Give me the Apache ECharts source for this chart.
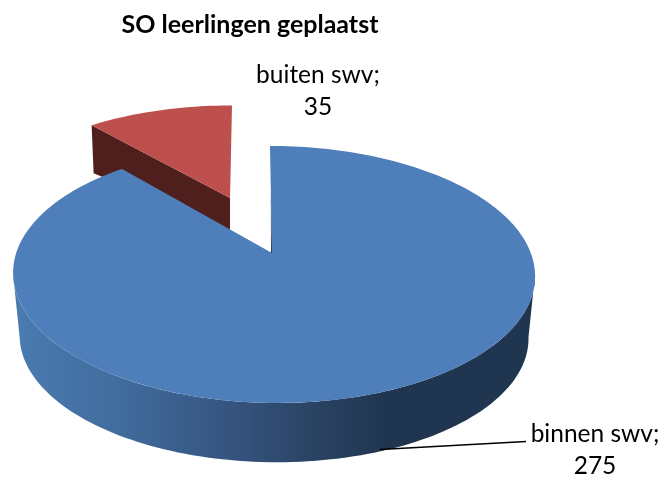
<!DOCTYPE html>
<html>
<head>
<meta charset="utf-8">
<style>html,body{margin:0;padding:0;background:#fff}#c{width:665px;height:477px}</style>
<script src="https://cdn.jsdelivr.net/npm/echarts@6/dist/echarts.min.js"></script>
</head>
<body>
<div id="c"></div>
<script>
var titleText = 'SO leerlingen geplaatst';
var categories = ['binnen swv', 'buiten swv'];
var values = [275, 35];
var topColors = ['#4e7fba', '#bd4f4c'];

// Projection of each slice disc (page pixels): apex, rim centre, horizontal/vertical scale,
// perspective strength and a slight lean of the vertical axis.
var discs = [
  { ax: 272, rx: 273.5, ay: 253, g: 257.3, f: 124.9, k: 0.167, lean: -3.5, z: 10 },
  { ax: 230, rx: 230, ay: 198, g: 242, f: 108, k: 0.167, lean: 2, z: 5 }
];
var labelPos = [[595, 450], [318, 91]];
var total = values.reduce(function (a, b) { return a + b; }, 0);

function pt(d, deg, scale, dy) {
  var t = deg * Math.PI / 180, u = Math.sin(t), v = Math.cos(t), w = 1 + d.k * v;
  return [d.rx + scale * (d.g * u / w + d.lean * v), d.ay + dy - scale * d.f * v / w];
}
function arc(d, a, b, scale, dy) {
  var out = [], n = Math.max(2, Math.ceil(Math.abs(b - a) / 1.5));
  for (var i = 0; i <= n; i++) out.push(pt(d, a + (b - a) * i / n, scale, dy));
  return out;
}

function renderItem(params, api) {
  var idx = params.dataIndex, d = discs[idx], val = api.value(0), start = 0;
  for (var i = 0; i < idx; i++) start += values[i];
  var a0 = start / total * 360, a1 = a0 + val / total * 360;
  var kids = [];
  var apex = [d.ax, d.ay];
  if (idx === 0) {
    var front = arc(d, 99.6, 260.4, 1, 0).concat(arc(d, 260.4, 99.6, 0.975, 63));
    kids.push({
      type: 'polygon', z2: d.z, shape: { points: front },
      style: { fill: { type: 'linear', x: 12, y: 0, x2: 535, y2: 0, global: true, colorStops: [
        { offset: 0, color: '#4a7cb2' }, { offset: 0.2, color: '#416c9e' },
        { offset: 0.4, color: '#365681' }, { offset: 0.58, color: '#2a4364' },
        { offset: 0.72, color: '#20354f' }, { offset: 1, color: '#20354f' }] } }
    });
  } else {
    var l = pt(d, a0, 1, 0);
    kids.push({
      type: 'polygon', z2: d.z, shape: { points: [l, apex, [apex[0], apex[1] + 32], [l[0] + 2, l[1] + 48]] },
      style: { fill: '#4e1f1d' }
    });
  }
  kids.push({
    type: 'polygon', z2: d.z + 1, shape: { points: [apex].concat(arc(d, a0, a1, 1, 0)) },
    style: { fill: topColors[idx] }
  });
  if (idx === 0) {
    var t0 = pt(d, a0, 1, 0);
    kids.push({
      type: 'polygon', z2: d.z + 2,
      shape: { points: [[t0[0] + 0.8, t0[1] + 45], [apex[0], apex[1]], [apex[0] - 1, apex[1]]] },
      style: { fill: '#20354f' }
    });
    kids.push({
      type: 'polyline', z2: d.z + 3, shape: { points: [[380, 449.5], [526, 441.5]] },
      style: { stroke: '#000', lineWidth: 1.4, fill: null }
    });
  }
  kids.push({
    type: 'text', z2: 30,
    style: {
      x: labelPos[idx][0], y: labelPos[idx][1], text: categories[idx] + ';\n' + val,
      align: 'center', verticalAlign: 'middle', fill: '#000',
      font: '24.5px Lato', lineHeight: 32
    }
  });
  return { type: 'group', children: kids };
}

var chart = echarts.init(document.getElementById('c'), null, { renderer: 'canvas' });
chart.setOption({
  animation: false,
  backgroundColor: '#fff',
  title: {
    text: titleText, left: 245, top: 7, textAlign: 'center',
    textStyle: { fontFamily: 'Lato', fontWeight: 'bold', fontSize: 25, color: '#000' }
  },
  series: [{
    type: 'custom', coordinateSystem: 'none', silent: true,
    renderItem: renderItem,
    data: categories.map(function (c, i) { return { name: c, value: [values[i]] }; })
  }]
});
</script>
</body>
</html>
